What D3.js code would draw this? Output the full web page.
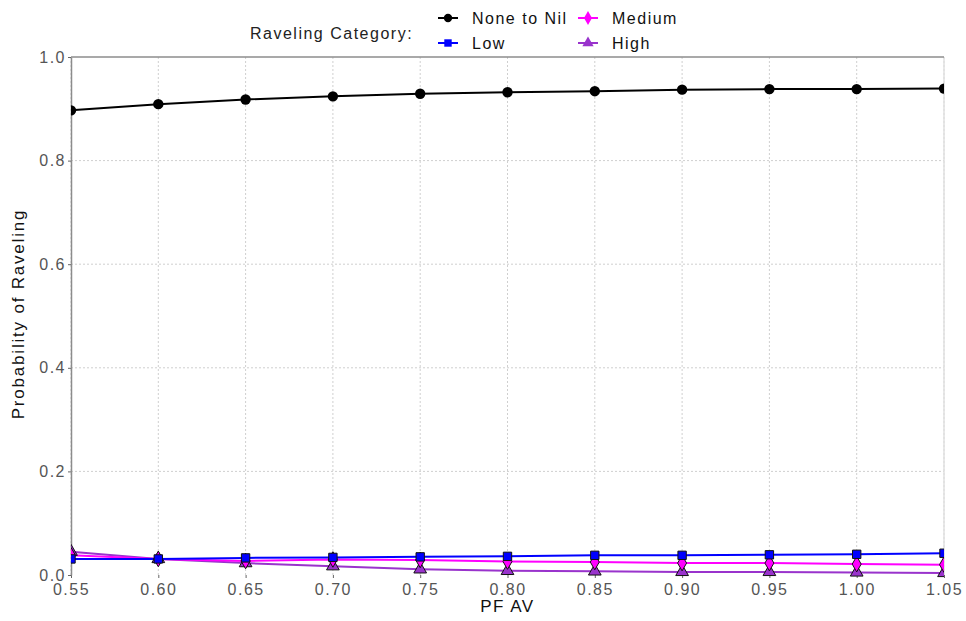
<!DOCTYPE html>
<html><head><meta charset="utf-8">
<script src="https://cdn.jsdelivr.net/npm/d3@7"></script>
<style>body{margin:0;background:#fff;font-family:"Liberation Sans",Arial,sans-serif;} text{letter-spacing:1.5px;}</style>
</head><body><svg id="c" width="966" height="621"></svg>
<script>
const pfAV = [0.55,0.60,0.65,0.70,0.75,0.80,0.85,0.90,0.95,1.00,1.05];
const noneToNil = [0.897,0.909,0.918,0.924,0.929,0.932,0.934,0.937,0.938,0.938,0.939];
const low =       [0.031,0.031,0.033,0.034,0.035,0.036,0.038,0.038,0.039,0.040,0.042];
const medium =    [0.038,0.031,0.027,0.030,0.029,0.026,0.025,0.023,0.023,0.021,0.020];
const high =      [0.045,0.031,0.023,0.017,0.011,0.008,0.007,0.006,0.006,0.005,0.004];
const xTicks = [0.55,0.60,0.65,0.70,0.75,0.80,0.85,0.90,0.95,1.00,1.05];
const yTicks = [0.0,0.2,0.4,0.6,0.8,1.0];
const seriesNames = ["None to Nil","Low","Medium","High"];
const seriesColors = ["#000000","#0000ff","#ff00ff","#9933cc"];
const seriesShapes = [d3.symbolCircle,d3.symbolSquare,d3.symbolDiamond,d3.symbolTriangle];
const seriesData = [noneToNil,low,medium,high];

const svg = d3.select("#c");
const L=71,R=944,T=57,B=575;
const x = d3.scaleLinear().domain([0.55,1.05]).range([L,R]);
const y = d3.scaleLinear().domain([0,1]).range([B,T]);

// grid
svg.append("g").selectAll("line").data(xTicks).join("line")
  .attr("x1",d=>x(d)).attr("x2",d=>x(d)).attr("y1",T).attr("y2",B)
  .attr("stroke","#cfcfcf").attr("stroke-width",1).attr("stroke-dasharray","2,2");
svg.append("g").selectAll("line").data(yTicks.filter(d=>d>0&&d<1)).join("line")
  .attr("x1",L).attr("x2",R).attr("y1",d=>y(d)).attr("y2",d=>y(d))
  .attr("stroke","#cfcfcf").attr("stroke-width",1).attr("stroke-dasharray","2,2");
svg.append("line").attr("x1",R).attr("x2",R).attr("y1",T).attr("y2",B).attr("stroke","#e0e0e0").attr("stroke-width",1.5);
svg.append("line").attr("x1",L).attr("x2",R).attr("y1",T).attr("y2",T).attr("stroke","#8c8c8c").attr("stroke-width",1.5);

// axes
const xAxis = svg.append("g").attr("transform",`translate(0,${B})`)
  .call(d3.axisBottom(x).tickValues(xTicks).tickFormat(d3.format(".2f")).tickSize(3).tickSizeOuter(0));
xAxis.select(".domain").remove();
xAxis.selectAll("line").attr("stroke","#666");
xAxis.selectAll("text").attr("fill","#555").attr("font-size","16px").attr("dy","0.85em")
  .attr("font-family","Liberation Sans, Arial, sans-serif");
const yAxis = svg.append("g").attr("transform",`translate(${L},0)`)
  .call(d3.axisLeft(y).tickValues(yTicks).tickFormat(d3.format(".1f")).tickSize(3).tickSizeOuter(0));
yAxis.select(".domain").attr("stroke","#8c8c8c").attr("stroke-width",1.5);
yAxis.selectAll("line").attr("stroke","#666");
yAxis.selectAll("text").attr("fill","#555").attr("font-size","16px").attr("x",-5)
  .attr("font-family","Liberation Sans, Arial, sans-serif");

// titles
svg.append("text").attr("x",(L+R)/2).attr("y",612).attr("text-anchor","middle")
  .attr("font-size","17px").attr("fill","#111").text("PF AV");
svg.append("text").attr("transform",`translate(24,${(T+B)/2 - 2}) rotate(-90)`).attr("text-anchor","middle")
  .attr("font-size","17px").attr("fill","#111").style("letter-spacing","1.8px").text("Probability of Raveling");

// clip
svg.append("clipPath").attr("id","clip").append("rect").attr("x",L).attr("y",T-10).attr("width",R-L).attr("height",B-T+20);
const plot = svg.append("g").attr("clip-path","url(#clip)");
const line = d3.line().x((d,i)=>x(pfAV[i])).y(d=>y(d));
[3,2,1,0].forEach(k=>{
  plot.append("path").datum(seriesData[k]).attr("d",line).attr("fill","none")
    .attr("stroke",seriesColors[k]).attr("stroke-width",2);
});
[3,2,1,0].forEach(k=>{
  plot.append("g").selectAll("path").data(seriesData[k]).join("path")
    .attr("transform",(d,i)=>`translate(${x(pfAV[i])},${y(d)})`)
    .attr("d",d3.symbol().type(seriesShapes[k]).size(k===0?85:70))
    .attr("fill",seriesColors[k]).attr("stroke","#111").attr("stroke-width",k===0?0:1);
});

// legend
const lg = svg.append("g");
lg.append("text").attr("x",250).attr("y",39).attr("font-size","16px").attr("fill","#222").text("Raveling Category:");
const pos = [[448,18],[448,43],[588,18],[588,43]];
seriesNames.forEach((n,k)=>{
  const [px,py]=pos[k];
  lg.append("line").attr("x1",px-10).attr("x2",px+10).attr("y1",py).attr("y2",py).attr("stroke",seriesColors[k]).attr("stroke-width",2);
  lg.append("path").attr("transform",`translate(${px},${py})`).attr("d",d3.symbol().type(seriesShapes[k]).size(55)).attr("fill",seriesColors[k]);
  lg.append("text").attr("x",px+24).attr("y",py+6).attr("font-size","16px").attr("fill","#111").text(n);
});
</script></body></html>
